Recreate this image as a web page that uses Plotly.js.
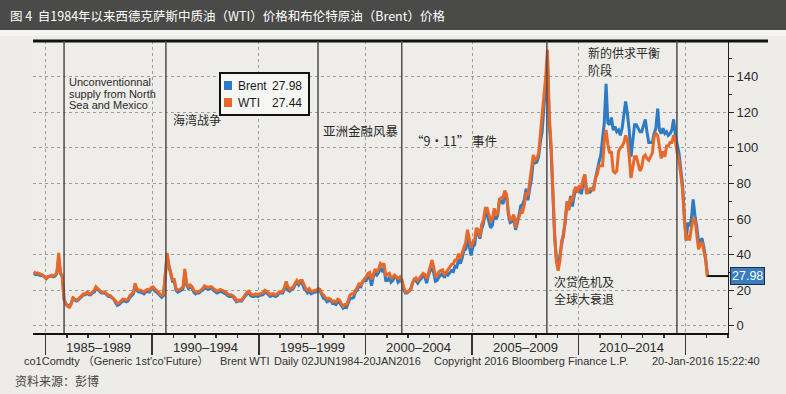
<!DOCTYPE html>
<html>
<head>
<meta charset="utf-8">
<script src="https://cdn.plot.ly/plotly-3.0.1.min.js"></script>
<style>
html,body{margin:0;padding:0;background:#edece8;}
#chart{width:786px;height:394px;}
</style>
</head>
<body>
<div id="chart"></div>
<script>
// Monthly values, June 1984 .. January 2016 (USD/bbl)
const startYear = 1984, startMonth = 6;

const wti = [
  30.5, 29.5, 29.8, 29.5, 29.0, 28.5, 27.5,
  26.5, 27.5, 28.0, 28.5, 28.0, 28.5, 30.0, 41.0, 30.0, 28.0, 15.0, 12.0,
  11.0, 10.5, 12.0, 16.0, 15.0, 14.5, 15.0, 16.0, 17.0, 18.0, 18.0, 19.0,
  18.0, 18.0, 19.0, 20.0, 22.0, 21.0, 20.0, 19.0, 19.0, 19.0, 18.0, 17.0,
  17.0, 16.0, 15.5, 14.0, 12.5, 13.0, 14.0, 15.0, 15.0, 14.5, 15.0, 17.0,
  18.0, 19.0, 24.0, 21.0, 20.0, 20.0, 19.5, 19.0, 20.0, 20.5, 20.0, 21.5,
  22.0, 21.0, 20.0, 19.0, 18.0, 17.0, 18.0, 30.0, 41.0, 34.0, 30.0, 26.0,
  26.0, 21.0, 20.0, 20.5, 21.0, 22.0, 32.0, 24.0, 22.0, 23.0, 22.0, 20.0,
  19.0, 19.0, 19.5, 20.0, 21.0, 22.5, 22.0, 21.5, 22.0, 22.0, 21.0, 20.0,
  19.5, 20.0, 20.5, 20.0, 19.5, 19.0, 18.0, 17.5, 17.5, 17.0, 16.0, 14.0,
  14.5, 14.5, 14.5, 16.0, 17.5, 19.0, 19.5, 18.0, 17.5, 17.5, 18.0, 17.5,
  18.0, 18.5, 18.5, 20.0, 19.5, 18.5, 17.5, 18.0, 18.0, 17.5, 18.0, 19.0,
  19.0, 19.5, 21.5, 25.0, 22.0, 20.5, 21.5, 22.0, 24.0, 25.5, 24.0, 25.5,
  25.5, 22.5, 21.0, 20.0, 21.0, 19.5, 19.5, 20.0, 20.0, 21.0, 20.5, 18.5,
  17.0, 16.0, 15.0, 15.5, 15.0, 13.5, 14.0, 13.5, 15.0, 14.5, 12.5, 11.0,
  12.0, 12.0, 14.5, 17.5, 18.0, 18.0, 20.0, 21.5, 24.0, 22.5, 25.0, 26.0,
  27.5, 29.5, 30.0, 26.0, 29.0, 32.0, 30.0, 32.0, 35.0, 34.0, 35.0, 28.0,
  29.0, 29.5, 27.0, 27.5, 28.5, 27.5, 26.5, 27.5, 26.0, 22.0, 19.0, 19.0,
  19.5, 20.5, 24.0, 26.0, 27.0, 25.5, 27.0, 28.5, 29.5, 29.0, 26.5, 29.5,
  33.0, 37.0, 33.0, 28.0, 28.0, 30.5, 31.0, 31.5, 28.5, 30.0, 31.0, 32.5,
  34.5, 35.0, 37.0, 37.0, 40.5, 38.0, 41.0, 45.0, 47.0, 54.0, 49.0, 44.0,
  47.0, 48.5, 55.0, 54.0, 50.0, 57.0, 59.5, 66.0, 66.0, 63.0, 59.0, 60.0,
  66.0, 62.0, 63.0, 71.0, 72.0, 72.0, 76.0, 74.0, 64.0, 59.5, 60.0, 62.5,
  55.0, 60.0, 61.0, 64.5, 64.0, 68.0, 75.0, 73.0, 80.0, 87.0, 96.0, 93.0,
  94.0, 97.0, 107.0, 115.0, 128.0, 140.0, 155.0, 118.0, 102.0, 72.0, 52.0, 36.0,
  31.0, 37.0, 48.0, 50.0, 60.0, 70.0, 65.0, 72.0, 70.0, 76.0, 78.0, 75.0,
  79.0, 77.0, 82.0, 85.0, 74.0, 76.0, 77.0, 77.0, 76.0, 83.0, 85.0, 90.0,
  90.0, 90.0, 104.0, 110.0, 102.0, 97.0, 98.0, 87.0, 86.0, 87.0, 98.0, 100.0,
  101.0, 103.0, 107.0, 104.0, 95.0, 83.0, 89.0, 95.0, 95.0, 90.0, 87.0, 89.0,
  95.0, 96.0, 94.0, 93.0, 95.0, 97.0, 106.0, 108.0, 107.0, 101.0, 94.0, 98.0,
  95.0, 101.0, 101.0, 103.0, 103.0, 107.0, 104.0, 97.0, 93.0, 85.0, 76.0, 60.0,
  48.0, 51.0, 48.0, 55.0, 60.0, 60.0, 51.0, 43.0, 46.0, 47.0, 42.0, 37.0,
  27.44
];

const brent = [
  29.5, 28.8, 29.0, 28.5, 28.2, 28.4, 27.5,
  26.5, 27.8, 27.8, 28.0, 27.5, 28.0, 29.5, 38.0, 29.5, 27.5, 15.0, 12.5,
  11.5, 11.0, 12.5, 15.5, 14.5, 14.0, 14.5, 15.5, 16.5, 17.5, 17.5, 18.5,
  17.5, 17.5, 18.5, 19.0, 21.0, 20.5, 19.5, 18.5, 18.5, 18.5, 17.5, 16.5,
  16.5, 15.5, 15.0, 13.0, 11.5, 12.0, 13.0, 14.0, 14.0, 13.5, 14.0, 16.0,
  17.0, 18.0, 22.0, 20.0, 19.0, 19.0, 18.5, 18.0, 19.0, 19.5, 19.0, 20.5,
  21.0, 19.5, 19.0, 18.0, 17.0, 16.0, 17.0, 27.0, 39.0, 34.0, 29.0, 25.0,
  25.0, 20.0, 19.0, 19.5, 20.0, 21.0, 30.0, 23.0, 21.0, 22.0, 21.5, 19.0,
  18.0, 18.5, 18.5, 19.5, 20.0, 21.5, 21.0, 20.5, 21.0, 21.0, 20.0, 19.0,
  18.5, 19.0, 19.5, 19.0, 18.5, 18.0, 17.0, 16.5, 16.5, 16.5, 15.0, 13.5,
  14.0, 14.0, 14.0, 15.5, 17.0, 18.0, 18.5, 17.0, 16.5, 16.5, 17.0, 16.5,
  17.0, 17.5, 17.5, 19.0, 18.5, 17.5, 16.5, 17.0, 17.0, 16.5, 17.0, 18.5,
  18.5, 18.5, 20.5, 22.5, 20.0, 19.5, 20.5, 21.0, 23.0, 24.5, 23.0, 24.5,
  24.0, 21.0, 20.0, 18.5, 19.5, 18.0, 18.5, 19.0, 19.0, 20.5, 19.5, 17.5,
  15.5, 15.0, 13.5, 14.0, 14.5, 12.5, 12.5, 12.0, 13.5, 13.0, 11.5, 10.0,
  11.0, 10.5, 13.0, 15.5, 15.5, 16.0, 19.0, 20.0, 22.5, 22.0, 24.5, 25.5,
  25.5, 27.5, 27.5, 22.5, 27.5, 29.5, 28.5, 30.0, 32.5, 31.0, 32.5, 25.5,
  25.5, 27.5, 24.5, 25.5, 28.0, 27.5, 24.5, 25.5, 25.5, 20.5, 18.5, 18.5,
  19.5, 20.5, 23.5, 26.0, 25.5, 24.0, 25.5, 26.5, 28.5, 27.5, 24.0, 28.5,
  31.0, 32.5, 30.0, 25.0, 25.5, 27.5, 28.5, 29.5, 27.0, 29.5, 28.5, 30.0,
  31.0, 30.5, 33.5, 33.0, 37.5, 35.0, 38.0, 42.5, 43.0, 49.0, 43.0, 39.5,
  44.5, 45.5, 53.0, 52.0, 49.0, 54.5, 57.5, 64.0, 62.5, 58.5, 55.0, 56.5,
  63.0, 60.0, 62.0, 70.5, 70.0, 68.5, 73.5, 73.0, 62.5, 58.0, 58.5, 62.0,
  54.0, 57.5, 62.0, 67.5, 68.0, 71.0, 77.0, 70.5, 77.0, 82.5, 92.5, 91.5,
  92.0, 95.0, 103.0, 109.0, 123.0, 134.0, 150.0, 114.0, 99.0, 70.0, 50.0, 38.0,
  33.0, 40.0, 46.0, 51.0, 58.0, 69.0, 65.0, 73.0, 67.0, 73.0, 77.0, 75.0,
  77.0, 74.0, 79.0, 85.0, 76.0, 75.0, 75.0, 77.0, 78.0, 83.0, 86.0, 92.0,
  96.0, 104.0, 114.0, 136.0, 114.0, 113.0, 117.0, 110.0, 112.0, 109.0, 110.0, 107.0,
  111.0, 119.0, 126.0, 119.0, 110.0, 95.0, 103.0, 113.0, 113.0, 111.0, 109.0, 109.0,
  113.0, 116.0, 109.0, 103.0, 103.0, 103.0, 108.0, 111.0, 122.0, 110.0, 108.0, 111.0,
  108.0, 109.0, 107.0, 108.0, 110.0, 116.0, 107.0, 102.0, 97.0, 88.0, 79.0, 62.0,
  48.0, 58.0, 56.0, 60.0, 71.0, 62.0, 56.0, 47.0, 48.0, 49.0, 44.0, 38.0,
  27.98
];

const seriesNames = ['Brent', 'WTI'];
const periodLabels = ['1985–1989', '1990–1994', '1995–1999', '2000–2004', '2005–2009', '2010–2014'];
const periodMid = ['1987-07-01', '1992-07-01', '1997-07-01', '2002-07-01', '2007-07-01', '2012-07-01'];
const periodEdges = ['1985-01-01', '1990-01-01', '1995-01-01', '2000-01-01', '2005-01-01', '2010-01-01', '2015-01-01'];
const eventDates = ['1985-11-15', '1990-08-25', '1997-10-12', '2001-09-15', '2008-07-05', '2014-08-10'];
const yTicks = [0, 20, 40, 60, 80, 100, 120, 140];
const xRange = ['1984-06-01', '2017-01-01'];
const yRange = [-4, 160];

const months = wti.map((_, i) => {
  const m = startMonth - 1 + i;
  const y = startYear + Math.floor(m / 12);
  const mm = (m % 12) + 1;
  return y + '-' + String(mm).padStart(2, '0') + '-15';
});

const lastBrent = brent[brent.length - 1];
const lastWti = wti[wti.length - 1];
const lastDate = months[months.length - 1];

const BLUE = '#2c7bc4';
const ORANGE = '#e8682a';
const LATIN = 'Liberation Sans, Arial, Noto Sans CJK SC, sans-serif';
const CJK = 'Noto Sans CJK SC, Liberation Sans, sans-serif';

const traces = [
  {x: months, y: brent, type: 'scatter', mode: 'lines', line: {color: BLUE, width: 3}, showlegend: false},
  {x: months, y: wti, type: 'scatter', mode: 'lines', line: {color: ORANGE, width: 3}, showlegend: false},
  {x: [lastDate, xRange[1]], y: [lastBrent, lastBrent], type: 'scatter', mode: 'lines', line: {color: '#111', width: 2}, showlegend: false}
];

const px = v => (v - 33) / 695;
const py = v => (333 - v) / 292;

const shapes = [
  // title bar
  {type: 'rect', xref: 'paper', yref: 'paper', x0: px(0), x1: px(786), y0: py(30), y1: py(0),
   fillcolor: '#4a4a49', line: {width: 0}, layer: 'below'},
  {type: 'rect', xref: 'paper', yref: 'paper', x0: px(0), x1: px(786), y0: py(36), y1: py(30),
   fillcolor: '#f4f4f2', line: {width: 0}, layer: 'below'},
  // top rule
  {type: 'line', xref: 'paper', yref: 'paper', x0: 0, x1: px(768), y0: 1, y1: 1, line: {color: '#111', width: 3}},
  // legend box and swatches
  {type: 'rect', xref: 'paper', yref: 'paper', x0: px(220), x1: px(309), y0: py(115), y1: py(73),
   fillcolor: '#f6f6f4', line: {color: '#111', width: 2}},
  {type: 'rect', xref: 'paper', yref: 'paper', x0: px(224), x1: px(232), y0: py(90), y1: py(81),
   fillcolor: BLUE, line: {width: 0}},
  {type: 'rect', xref: 'paper', yref: 'paper', x0: px(224), x1: px(232), y0: py(107), y1: py(98),
   fillcolor: ORANGE, line: {width: 0}}
];
eventDates.forEach(d => shapes.push({type: 'line', xref: 'x', yref: 'paper', x0: d, x1: d, y0: 0, y1: 1,
  line: {color: '#4d4d4d', width: 1.5}}));

const ann = [];
function txt(x, y, text, size, family, color, anchor) {
  ann.push({xref: 'paper', yref: 'paper', x: px(x), y: py(y), text: text, showarrow: false,
    xanchor: anchor || 'left', yanchor: 'middle', align: 'left',
    font: {family: family || LATIN, size: size, color: color || '#2a2a2a'}});
}

// title
txt(8, 15, '图 4  自1984年以来西德克萨斯中质油（WTI）价格和布伦特原油（Brent）价格', 12.5, CJK, '#ffffff');

// legend text
txt(236, 85.5, seriesNames[0], 12, LATIN, '#1a1a1a');
txt(304, 85.5, lastBrent.toFixed(2), 12, LATIN, '#1a1a1a', 'right');
txt(236, 102.5, seriesNames[1], 12, LATIN, '#1a1a1a');
txt(304, 102.5, lastWti.toFixed(2), 12, LATIN, '#1a1a1a', 'right');

txt(67, 82.5, 'Unconventionnal', 11);
txt(67, 93.5, 'supply from North', 11);
txt(67, 104.5, 'Sea and Mexico', 11);
txt(171, 120, '海湾战争', 12, CJK);
txt(321, 130, '亚洲金融风暴', 12.5, CJK);
txt(409, 140, '“9・11” 事件', 12.5, CJK);
txt(586, 52, '新的供求平衡', 12, CJK);
txt(586, 69.5, '阶段', 12, CJK);
txt(552, 281, '次贷危机及', 12, CJK);
txt(552, 298.5, '全球大衰退', 12, CJK);

// footer
txt(22, 361, 'co1Comdty （Generic 1st\'co\'Future）', 11, LATIN, '#333');
txt(218, 361, 'Brent WTI', 11, LATIN, '#333');
txt(272, 361, 'Daily 02JUN1984-20JAN2016', 11, LATIN, '#333');
txt(432, 361, 'Copyright 2016 Bloomberg Finance L.P.', 11, LATIN, '#333');
txt(650, 361, '20-Jan-2016 15:22:40', 11, LATIN, '#333');
txt(13, 380, '资料来源：彭博', 12, CJK, '#444');

// period labels under the axis
periodMid.forEach((d, i) => ann.push({xref: 'x', yref: 'paper', x: d, y: py(347), text: periodLabels[i],
  showarrow: false, xanchor: 'center', yanchor: 'middle', font: {family: LATIN, size: 13, color: '#2a2a2a'}}));

// last value tag
ann.push({xref: 'paper', yref: 'y', x: 1, xshift: 2, y: lastBrent, text: lastBrent.toFixed(2), showarrow: false,
  xanchor: 'left', yanchor: 'middle', bgcolor: '#3a7cc0', bordercolor: '#1d2f45', borderwidth: 1, borderpad: 1,
  font: {family: LATIN, size: 12.5, color: '#ffffff'}});

const layout = {
  width: 786, height: 394,
  margin: {l: 33, r: 58, t: 41, b: 61, pad: 0},
  paper_bgcolor: '#edece8',
  plot_bgcolor: '#eeede9',
  showlegend: false,
  xaxis: {type: 'date', range: xRange, showline: true, linecolor: '#111', linewidth: 2,
    tickvals: periodEdges, ticktext: periodEdges.map(() => ''), ticks: 'outside', ticklen: 20,
    tickcolor: '#333', tickwidth: 1.5, showgrid: true, gridcolor: '#9c9c9a', griddash: 'dot', gridwidth: 1,
    zeroline: false, fixedrange: true,
    minor: {ticks: 'outside', ticklen: 3, dtick: 'M12', tick0: '1985-01-01', tickcolor: '#333', showgrid: false}},
  yaxis: {side: 'right', range: yRange, tickvals: yTicks, ticks: 'outside', ticklen: 5, tickcolor: '#222',
    showline: true, linecolor: '#222', linewidth: 1, showgrid: true, gridcolor: '#9c9c9a', griddash: 'dot',
    gridwidth: 1, zeroline: false, tickfont: {family: LATIN, size: 13, color: '#2a2a2a'},
    minor: {ticks: 'outside', ticklen: 3, dtick: 10, tickcolor: '#222', showgrid: false}},
  shapes: shapes,
  annotations: ann,
  hovermode: false
};

Plotly.newPlot('chart', traces, layout, {staticPlot: true, displayModeBar: false});
</script>
</body>
</html>
